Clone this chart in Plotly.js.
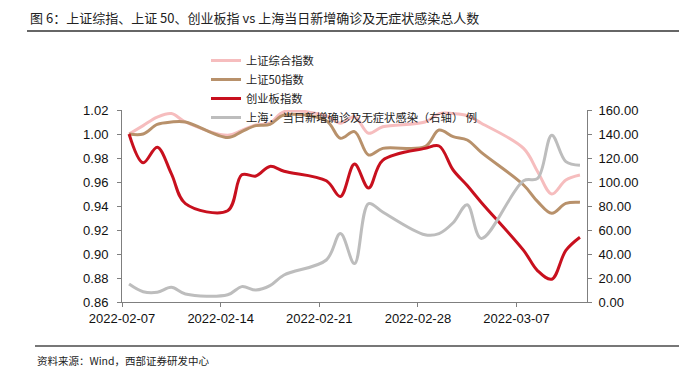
<!DOCTYPE html>
<html>
<head>
<meta charset="utf-8">
<script src="https://cdn.plot.ly/plotly-3.0.1.min.js"></script>
<style>html,body{margin:0;padding:0;background:#fff;}#chart{width:679px;height:375px;}</style>
</head>
<body>
<div id="chart"></div>
<script>
// Trading days
const dates = ['2022-02-07','2022-02-08','2022-02-09','2022-02-10','2022-02-11',
  '2022-02-14','2022-02-15','2022-02-16','2022-02-17','2022-02-18',
  '2022-02-21','2022-02-22','2022-02-23','2022-02-24','2022-02-25',
  '2022-02-28','2022-03-01','2022-03-02','2022-03-03','2022-03-04',
  '2022-03-07','2022-03-08','2022-03-09','2022-03-10','2022-03-11'];
// 上证综合指数 (normalized)
const shComposite = [1.000,1.007,1.014,1.017,1.010, 0.999,1.003,1.0075,1.009,1.0186,
  1.015,1.009,1.0144,1.0006,1.006, 1.010,1.017,1.017,1.0153,1.009, 0.988,0.9686,0.950,0.9617,0.9658];
// 上证50指数 (normalized)
const sh50 = [1.000,1.000,1.008,1.010,1.010, 0.997,1.002,1.007,1.008,1.0158,
  1.011,0.9964,1.002,0.9825,0.988, 0.9894,1.0033,0.9978,0.995,0.9847, 0.9575,0.9436,0.9339,0.9422,0.9431];
// 创业板指数 (normalized)
const chinext = [1.000,0.976,0.989,0.967,0.942, 0.936,0.966,0.965,0.973,0.969,
  0.961,0.948,0.975,0.955,0.978, 0.988,0.990,0.970,0.957,0.943, 0.903,0.886,0.879,0.903,0.914];
// 上海：当日新增确诊及无症状感染（右轴） 例
const cases = [15,8.6,8.1,12.2,6.7, 6,12.8,10,13.6,22.5, 35,57,32,82,75, 56,57,66,81,53, 101,103,139,117,114];

const names = ['上证综合指数','上证50指数','创业板指数','上海： 当日新增确诊及无症状感染（右轴） 例'];
const leftTicks = [0.86,0.88,0.90,0.92,0.94,0.96,0.98,1.00,1.02];
const rightTicks = [0,20,40,60,80,100,120,140,160];

const W = 679, H = 375;
const M = {l:122, r:92, t:110, b:73};
const PW = W - M.l - M.r, PH = H - M.t - M.b;
const px = x => (x - M.l) / PW;
const py = y => (H - M.b - y) / PH;

const xs = dates.map(d => d + ' 12:00');
const lineBase = {type:'scatter', mode:'lines', x: xs};
const traces = [
  Object.assign({}, lineBase, {name:names[0], y:shComposite, line:{color:'#F6BDBE', width:3, shape:'spline', smoothing:1}}),
  Object.assign({}, lineBase, {name:names[1], y:sh50, line:{color:'#B8916B', width:3, shape:'spline', smoothing:1}}),
  Object.assign({}, lineBase, {name:names[2], y:chinext, line:{color:'#C8101E', width:3, shape:'spline', smoothing:1}}),
  Object.assign({}, lineBase, {name:names[3], y:cases, yaxis:'y2', line:{color:'#BDBDBD', width:3, shape:'spline', smoothing:1}})
];

const tickFont = {family:'"Liberation Sans", Arial, sans-serif', size:13, color:'#111'};
const cjk = '"Noto Sans CJK SC", "Noto Sans", sans-serif';

const layout = {
  width: W, height: H,
  margin: M,
  paper_bgcolor:'#fff', plot_bgcolor:'rgba(0,0,0,0)',
  showlegend: true,
  legend: {x: px(206), y: py(46), xanchor:'left', yanchor:'top', bgcolor:'rgba(0,0,0,0)',
    font:{family:cjk, size:11.3, color:'#222'}, tracegroupgap:0, itemwidth:30},
  xaxis: {type:'date', range:['2022-02-07','2022-03-12'], tick0:'2022-02-07', dtick:7*86400000,
    tickformat:'%Y-%m-%d', ticks:'outside', ticklen:4, tickcolor:'#7f7f7f', showgrid:false, zeroline:false,
    showline:true, linecolor:'#7f7f7f', linewidth:1, tickfont:tickFont, fixedrange:true},
  yaxis: {range:[0.86,1.02], tickvals:leftTicks, tickformat:'.2f', ticks:'outside', ticklen:4, tickcolor:'#7f7f7f',
    showgrid:false, zeroline:false, showline:true, linecolor:'#7f7f7f', linewidth:1, tickfont:tickFont, ticklabelstandoff:6},
  yaxis2: {range:[0,160], tickvals:rightTicks, tickformat:'.2f', overlaying:'y', side:'right', ticks:'outside', ticklen:4,
    tickcolor:'#7f7f7f', showgrid:false, zeroline:false, showline:true, linecolor:'#7f7f7f', linewidth:1, tickfont:tickFont, ticklabelstandoff:4},
  shapes: [
    {type:'line', xref:'paper', yref:'paper', x0:px(27), x1:px(679), y0:py(31), y1:py(31), line:{color:'#333', width:1.5}},
    {type:'line', xref:'paper', yref:'paper', x0:px(35), x1:px(679), y0:py(346), y1:py(346), line:{color:'#777', width:2}}
  ],
  annotations: [
    {xref:'paper', yref:'paper', x:px(28), y:py(17), xanchor:'left', yanchor:'middle', showarrow:false,
      text:'图 6：上证综指、上证 50、创业板指 vs 上海当日新增确诊及无症状感染总人数', font:{family:cjk, size:13, color:'#222'}},
    {xref:'paper', yref:'paper', x:px(35), y:py(360), xanchor:'left', yanchor:'middle', showarrow:false,
      text:'资料来源：Wind，西部证券研发中心', font:{family:cjk, size:10.5, color:'#222'}}
  ]
};

Plotly.newPlot('chart', traces, layout, {displayModeBar:false, staticPlot:true});
</script>
</body>
</html>
